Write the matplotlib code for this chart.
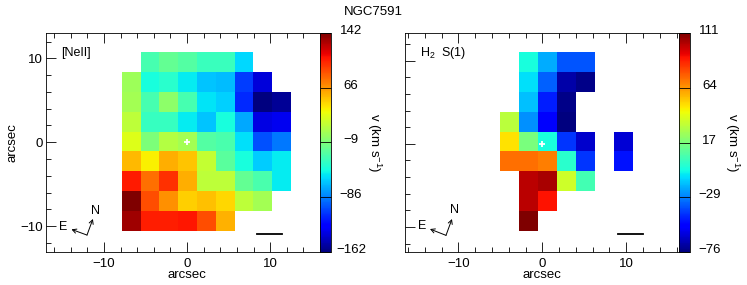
import numpy as np
import matplotlib
matplotlib.use('Agg')
import matplotlib.pyplot as plt

plt.rcParams['font.family'] = ['Liberation Sans', 'DejaVu Sans']
plt.rcParams['mathtext.default'] = 'regular'
plt.rcParams['font.size'] = 9.5

n = np.nan

# velocity maps, km/s, top row first
neii = [
    [n, -30, -19, -25, -34, -34, -59, n, n],
    [2, -46, -40, -53, -65, -68, -106, -138, n],
    [5, -30, -4, -30, -56, -62, -112, -162, -156],
    [14, -36, -36, -53, -65, -46, -74, -135, -132],
    [26, -10, 11, 5, -25, -28, -57, -100, -88],
    [55, 37, 58, 51, 17, -22, -46, -63, -53],
    [106, 78, 99, 58, 14, 14, -19, -28, -53],
    [142, 89, 68, 48, 52, 45, 14, 5, n],
    [133, 104, 104, 107, 89, 57, n, n, n],
]
h2 = [
    [n, -5, -21, -37, -37, n, n],
    [n, -11, -35, -69, -74, n, n],
    [n, -17, -47, -74, n, n, n],
    [32, -26, -55, -76, n, n, n],
    [49, 17, -5, -43, -63, n, -62],
    [72, 72, 69, -1, -43, n, -49],
    [n, 101, 104, 36, 5, n, n],
    [n, 101, 90, n, n, n, n],
    [n, 111, n, n, n, n, n],
]
neii_ticks = [-162, -86, -9, 66, 142]
h2_ticks = [-76, -29, 17, 64, 111]

W, H = 747, 285


def px_axes(x0, y0, x1, y1):
    return fig.add_axes([x0 / W, 1 - y1 / H, (x1 - x0) / W, (y1 - y0) / H])


def panel(box, cbox, data, ticks, extent, xlim, ylim, name, name_xy, bar, pivot, e_tip, n_tip, e_xy, n_xy, ylabels):
    ax = px_axes(*box)
    im = ax.imshow(np.array(data, dtype=float), cmap='jet', vmin=ticks[0], vmax=ticks[-1],
                   extent=extent, aspect='auto', interpolation='nearest', origin='upper')
    ax.set_xlim(xlim)
    ax.set_ylim(ylim)
    ax.set_xticks([-10, 0, 10])
    ax.set_yticks([-10, 0, 10])
    ax.set_xticks(np.arange(-16, 17, 2), minor=True)
    ax.set_yticks(np.arange(-12, 13, 2), minor=True)
    ax.tick_params(which='major', direction='in', top=True, length=7, width=0.6)
    ax.tick_params(which='minor', direction='in', top=True, length=3.5, width=0.6)
    ax.tick_params(axis='x', which='major', pad=4)
    ax.tick_params(axis='y', which='major', pad=2.5)
    if ylabels:
        ax.set_ylabel('arcsec', labelpad=1)
    else:
        ax.tick_params(axis='y', which='both', labelleft=False)
    for s in ax.spines.values():
        s.set_linewidth(0.6)

    # x label sits under the 0 tick, not under the middle of the axes
    ax.annotate('arcsec', xy=(0, 0), xycoords=('data', 'axes fraction'), xytext=(0, -12),
                textcoords='offset points', ha='center', va='top', annotation_clip=False)

    ax.plot([0], [0], '+', color='white', ms=5, mew=1.3)
    ax.text(name_xy[0], name_xy[1], name, ha='left', va='center', fontsize=9)
    ax.plot(bar[0], bar[1], color='black', lw=1.3)
    for tip in (e_tip, n_tip):
        ax.annotate('', xy=tip, xytext=pivot,
                    arrowprops=dict(arrowstyle='->,head_length=0.3,head_width=0.16', lw=0.7, color='black',
                                    shrinkA=0, shrinkB=0))
    ax.text(e_xy[0], e_xy[1], 'E', ha='center', va='center', fontsize=9)
    ax.text(n_xy[0], n_xy[1], 'N', ha='center', va='center', fontsize=9)

    cax = px_axes(*cbox)
    cb = fig.colorbar(im, cax=cax)
    cb.outline.set_linewidth(0.6)
    cb.set_ticks(ticks)
    cb.set_ticklabels([])
    cax.tick_params(direction='in', length=8, width=0.6, right=True)
    for t in ticks:
        label = str(t).replace('-', '\u2212')
        cax.annotate(label, xy=(1, t), xycoords=('axes fraction', 'data'), xytext=(14.4, 1.5),
                     textcoords='offset points', ha='center', va='center', annotation_clip=False)
    fig.text((cbox[2] + 43) / W, 1 - 143 / H, 'v (km s$^{-1}$)', rotation=270, ha='center', va='center')


fig = plt.figure(figsize=(7.47, 2.85), dpi=100)

panel((46.3, 33.3, 320, 252), (320, 33.3, 331, 252), neii, neii_ticks,
      [-7.88, 12.4, -10.6, 10.76], (-16.95, 15.7), (-13.1, 13.0),
      '[NeII]', (-15.2, 10.65), ([8.47, 11.38], [-11.0, -11.0]),
      (-12.05, -11.08), (-13.92, -10.4), (-11.34, -9.16), (-14.9, -10.08), (-11.06, -8.16), True)

panel((405, 33.3, 678.7, 252), (678.7, 33.3, 689.5, 252), h2, h2_ticks,
      [-5.05, 10.7, -10.5, 11.0], (-16.38, 16.26), (-13.0, 13.28),
      'H$_2$  S(1)', (-14.6, 10.95), ([9.07, 11.97], [-10.88, -10.88]),
      (-11.49, -11.0), (-13.4, -10.24), (-10.78, -9.04), (-14.39, -9.92), (-10.5, -8.0), False)

fig.text(373 / W, 1 - 12 / H, 'NGC7591', ha='center', va='center', fontsize=9.5)

fig.savefig('out.png', dpi=100)
